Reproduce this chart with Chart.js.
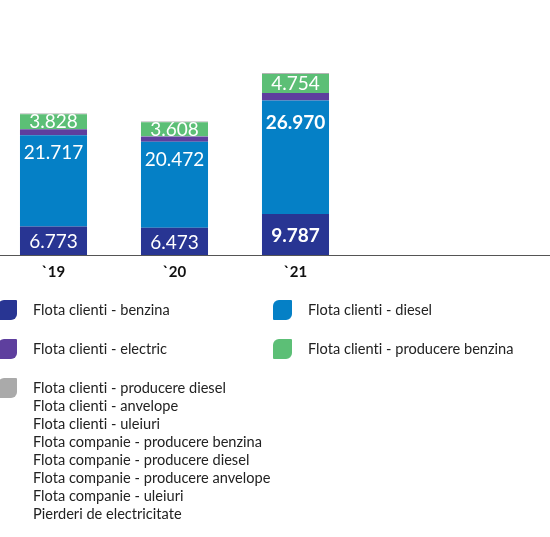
<!DOCTYPE html>
<html>
<head>
<meta charset="utf-8">
<script src="https://cdn.jsdelivr.net/npm/chart.js@4"></script>
<style>
  html, body { margin: 0; padding: 0; background: #fff; }
  body { width: 550px; height: 537px; overflow: hidden; position: relative; font-family: 'Lato', sans-serif; }
  #chartWrap { position: absolute; left: -7px; top: 0; width: 605px; height: 289px; }
  #legend { position: absolute; left: 0; top: 0; width: 550px; height: 537px; font-size: 14.6px; color: #222; font-variant-ligatures: none; }
  .box { position: absolute; width: 19px; height: 20px; border-radius: 6px 1px 6px 1px; }
  .txt { position: absolute; white-space: nowrap; line-height: 18px; }
</style>
</head>
<body>
<div id="chartWrap"><canvas id="barChart"></canvas></div>
<div id="legend"></div>
<script>
// Years and stacked values
const years = ['`19', '`20', '`21', '', ''];
const benzina = [6773, 6473, 9787];
const diesel = [21717, 20472, 26970];
const electric = [1450, 1270, 1800];
const producereBenzina = [3828, 3608, 4754];

const seriesNames = ['Flota clienti - benzina', 'Flota clienti - diesel', 'Flota clienti - electric', 'Flota clienti - producere benzina'];
const seriesColors = ['#283593', '#0580c6', '#5e3f9e', '#5cbf76'];
const otherNames = [
  'Flota clienti - producere diesel',
  'Flota clienti - anvelope',
  'Flota clienti - uleiuri',
  'Flota companie - producere benzina',
  'Flota companie - producere diesel',
  'Flota companie - producere anvelope',
  'Flota companie - uleiuri',
  'Pierderi de electricitate'
];
const otherColor = '#aaaaaa';

const fmt = v => v.toString().replace(/\B(?=(\d{3})+(?!\d))/g, '.');

// value labels drawn on the bars
const valueLabels = {
  id: 'valueLabels',
  afterDatasetsDraw(chart) {
    const ctx = chart.ctx;
    ctx.save();
    ctx.fillStyle = '#fff';
    ctx.textAlign = 'center';
    ctx.textBaseline = 'middle';
    chart.data.datasets.forEach((ds, di) => {
      if (!ds.showValue) return;
      chart.getDatasetMeta(di).data.forEach((bar, i) => {
        const v = ds.data[i];
        if (v == null) return;
        const bold = i === 2 && di < 2;
        ctx.font = (bold ? 'bold ' : '') + '19px Lato';
        let y = (bar.y + bar.base) / 2;
        if (ds.labelTop) y = bar.y + (bold ? 21 : 17);
        ctx.fillText(fmt(v), bar.x, y + 1);
      });
    });
    ctx.restore();
  }
};

new Chart(document.getElementById('barChart'), {
  type: 'bar',
  data: {
    labels: years,
    datasets: [
      { label: seriesNames[0], data: benzina, backgroundColor: seriesColors[0], showValue: true },
      { label: seriesNames[1], data: diesel, backgroundColor: seriesColors[1], showValue: true, labelTop: true },
      { label: seriesNames[2], data: electric, backgroundColor: seriesColors[2] },
      { label: seriesNames[3], data: producereBenzina, backgroundColor: seriesColors[3], showValue: true,
        borderColor: '#b4b4b4', borderWidth: { top: 1, left: 0, right: 0, bottom: 0 }, borderSkipped: false }
    ]
  },
  options: {
    responsive: true,
    maintainAspectRatio: false,
    animation: false,
    layout: { padding: 0 },
    datasets: { bar: { categoryPercentage: 1, barPercentage: 0.554 } },
    plugins: { legend: { display: false }, tooltip: { enabled: false } },
    scales: {
      x: {
        stacked: true,
        grid: { display: false, drawTicks: false },
        border: { display: true, color: '#555', width: 1 },
        ticks: { padding: 8, color: '#111', font: { family: 'Lato', size: 15, weight: 'bold' } }
      },
      y: { stacked: true, display: false, min: 0, max: 60700 }
    }
  },
  plugins: [valueLabels]
});

// HTML legend
const legend = document.getElementById('legend');
function addItem(x, y, color, lines) {
  const box = document.createElement('div');
  box.className = 'box';
  box.style.left = x + 'px';
  box.style.top = (y - 10) + 'px';
  box.style.background = color;
  legend.appendChild(box);
  const txt = document.createElement('div');
  txt.className = 'txt';
  txt.style.left = (x + 35) + 'px';
  txt.style.top = (y - 9) + 'px';
  txt.innerHTML = lines.join('<br>');
  legend.appendChild(txt);
}
const colX = [-2, 273];
const rowY = [310, 349];
seriesNames.forEach((n, i) => addItem(colX[i % 2], rowY[Math.floor(i / 2)], seriesColors[i], [n]));
addItem(colX[0], 388, otherColor, otherNames);
</script>
</body>
</html>
